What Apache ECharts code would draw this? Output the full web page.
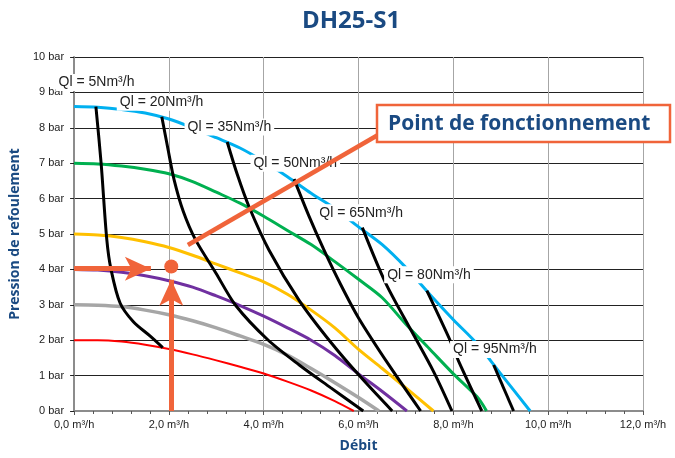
<!DOCTYPE html>
<html>
<head>
<meta charset="utf-8">
<script src="https://cdn.jsdelivr.net/npm/echarts/dist/echarts.min.js"></script>
<style>
  html, body { margin: 0; padding: 0; background: #fff; }
  #chart { width: 675px; height: 458px; }
</style>
</head>
<body>
<div id="chart"></div>
<script>
// courbes de pompe : [débit m³/h, pression bar]
const redCurve = [[0, 2.0], [0.5, 2.0], [1, 1.96], [1.5, 1.87], [2, 1.75], [2.5, 1.6], [3, 1.43], [3.5, 1.25], [4, 1.06], [4.5, 0.83], [5, 0.58], [5.5, 0.28], [5.9, 0]];
const grayCurve = [[0, 3.0], [0.5, 2.99], [1, 2.95], [1.5, 2.85], [2, 2.72], [2.5, 2.55], [3, 2.35], [3.5, 2.12], [4, 1.88], [4.5, 1.58], [5, 1.2], [5.5, 0.8], [6, 0.38], [6.43, 0]];
const purpleCurve = [[0, 4.0], [0.5, 3.98], [1, 3.92], [1.5, 3.82], [2, 3.68], [2.5, 3.5], [3, 3.25], [3.5, 2.98], [4, 2.68], [4.5, 2.35], [5, 2.0], [5.5, 1.57], [6, 1.05], [6.5, 0.55], [7.02, 0]];
const yellowCurve = [[0, 5.0], [0.5, 4.97], [1, 4.9], [1.5, 4.78], [2, 4.62], [2.5, 4.4], [3, 4.15], [3.5, 3.9], [4, 3.65], [4.5, 3.3], [5, 2.85], [5.5, 2.35], [6, 1.74], [6.5, 1.2], [7, 0.65], [7.58, 0]];
const greenCurve = [[0, 7.0], [0.5, 6.98], [1, 6.92], [1.5, 6.83], [2, 6.7], [2.5, 6.48], [3, 6.18], [3.5, 5.87], [4, 5.5], [4.5, 5.1], [5, 4.7], [5.5, 4.22], [6, 3.72], [6.5, 3.2], [7, 2.45], [7.5, 1.75], [8, 1.05], [8.5, 0.4], [8.7, 0]];
const cyanCurve = [[0, 8.6], [0.5, 8.58], [1, 8.52], [1.5, 8.42], [2, 8.25], [2.5, 8.0], [3, 7.72], [3.5, 7.43], [4, 7.05], [4.5, 6.62], [5, 6.15], [5.5, 5.72], [6, 5.2], [6.5, 4.7], [7, 4.05], [7.5, 3.3], [8, 2.58], [8.5, 1.9], [9, 1.05], [9.62, 0]];

// courbes de débit d'air Ql
const ql5 = [[0.46, 8.6], [0.57, 7.0], [0.69, 4.84], [0.78, 3.99], [0.97, 3.05], [1.25, 2.52], [1.6, 2.12], [1.87, 1.79]];
const ql20 = [[1.85, 8.31], [1.98, 7.4], [2.11, 6.53], [2.3, 5.65], [2.56, 4.84], [2.99, 3.9], [3.41, 2.98], [4.08, 2.02], [4.75, 1.3], [5.41, 0.66], [6.1, 0]];
const ql35 = [[3.23, 7.6], [3.45, 6.65], [3.69, 5.77], [4.11, 4.55], [4.75, 3.12], [5.41, 1.95], [6.05, 0.95], [6.71, 0]];
const ql50 = [[4.64, 6.55], [4.95, 5.52], [5.27, 4.55], [5.62, 3.58], [6.0, 2.63], [6.65, 1.28], [7.31, 0]];
const ql65 = [[6.08, 5.18], [6.57, 3.62], [7.1, 2.3], [7.58, 1.12], [7.97, 0]];
const ql80 = [[7.44, 3.4], [7.94, 1.97], [8.11, 1.41], [8.6, 0]];
const ql95 = [[8.85, 1.3], [9.27, 0]];

const qlLabels = ['Ql = 5Nm³/h', 'Ql = 20Nm³/h', 'Ql = 35Nm³/h', 'Ql = 50Nm³/h', 'Ql = 65Nm³/h', 'Ql = 80Nm³/h', 'Ql = 95Nm³/h'];
const qlLabelPos = [[-0.39, 9.28], [0.9, 8.72], [2.33, 8.02], [3.72, 7.0], [5.11, 5.6], [6.54, 3.85], [7.93, 1.74]];

// point de fonctionnement
const workPoint = [2.05, 4.08];
const pointerLine = [[2.4, 4.69], [6.4, 7.79]];
const hArrow = [[0, 4.02], [1.62, 4.02]];
const vArrow = [[2.05, 0], [2.05, 3.71]];

const orange = '#f0643a';
const blue = '#1a4a82';

const curve = (data, color, width) => ({
  type: 'line',
  data: data,
  smooth: 0.3,
  symbol: 'none',
  lineStyle: { color: color, width: width },
  z: 2,
});
const qlCurve = (data) => ({
  type: 'line',
  data: data,
  smooth: 0.3,
  symbol: 'none',
  lineStyle: { color: '#000', width: 3 },
  z: 3,
});

const chart = echarts.init(document.getElementById('chart'));
chart.setOption({
  animation: false,
  backgroundColor: '#fff',
  grid: { left: 73, right: 32, top: 57, bottom: 46 },
  xAxis: {
    type: 'value',
    min: 0,
    max: 12,
    interval: 2,
    name: 'Débit',
    nameLocation: 'middle',
    nameGap: 28,
    nameTextStyle: { fontFamily: 'Open Sans', fontWeight: 'bold', fontSize: 14, color: blue },
    axisLine: { show: true, lineStyle: { color: '#8c8c8c', width: 2 } },
    axisTick: { show: true, length: 4, lineStyle: { color: '#555' } },
    minorTick: { show: true, splitNumber: 5, length: 3, lineStyle: { color: '#555' } },
    splitLine: { show: true, lineStyle: { color: '#a6a6a6' } },
    axisLabel: {
      fontFamily: 'Liberation Sans',
      fontSize: 11,
      color: '#222',
      margin: 8,
      formatter: (v) => v.toFixed(1).replace('.', ',') + ' m³/h',
    },
  },
  yAxis: {
    type: 'value',
    min: 0,
    max: 10,
    interval: 1,
    name: 'Pression de refoulement',
    nameLocation: 'middle',
    nameGap: 41,
    nameTextStyle: { fontFamily: 'Open Sans', fontWeight: 'bold', fontSize: 14, color: blue },
    axisLine: { show: true, lineStyle: { color: '#8c8c8c', width: 2 } },
    axisTick: { show: true, length: 4, lineStyle: { color: '#222' } },
    splitLine: { show: true, lineStyle: { color: '#222' } },
    axisLabel: {
      fontFamily: 'Liberation Sans',
      fontSize: 11,
      color: '#222',
      margin: 10,
      formatter: '{value} bar',
    },
  },
  graphic: [
    {
      type: 'text',
      z: 100,
      style: {
        text: 'DH25-S1',
        x: 351,
        y: 21,
        align: 'center',
        verticalAlign: 'middle',
        textAlign: 'center',
        textVerticalAlign: 'middle',
        font: 'bold 24px "Open Sans"',
        fill: blue,
      },
    },
    {
      type: 'rect',
      z: 100,
      shape: { x: 377, y: 105, width: 293, height: 37 },
      style: { fill: '#fff', stroke: orange, lineWidth: 2.5 },
    },
    {
      type: 'text',
      z: 101,
      style: {
        text: 'Point de fonctionnement',
        x: 388,
        y: 124,
        align: 'left',
        verticalAlign: 'middle',
        textAlign: 'left',
        textVerticalAlign: 'middle',
        font: 'bold 21px "Open Sans"',
        fill: blue,
      },
    },
  ],
  series: [
    curve(redCurve, '#ff0000', 2),
    curve(grayCurve, '#a6a6a6', 3.5),
    curve(purpleCurve, '#7030a0', 3),
    curve(yellowCurve, '#ffc000', 3),
    curve(greenCurve, '#00b050', 3),
    curve(cyanCurve, '#00b0f0', 3),
    qlCurve(ql5),
    qlCurve(ql20),
    qlCurve(ql35),
    qlCurve(ql50),
    qlCurve(ql65),
    qlCurve(ql80),
    qlCurve(ql95),
    {
      // étiquettes Ql sur fond blanc
      type: 'custom',
      z: 10,
      clip: false,
      data: qlLabelPos,
      renderItem: (params, api) => {
        const p = api.coord([api.value(0), api.value(1)]);
        return {
          type: 'text',
          x: p[0],
          y: p[1],
          style: {
            text: qlLabels[params.dataIndex],
            font: '14px "Liberation Sans"',
            fill: '#222',
            backgroundColor: '#fff',
            padding: [2, 3, 1, 3],
            align: 'left',
            verticalAlign: 'middle',
          },
        };
      },
    },
    {
      type: 'line',
      data: pointerLine,
      symbol: 'none',
      lineStyle: { color: orange, width: 4.5 },
      z: 12,
    },
    {
      type: 'scatter',
      data: [workPoint],
      symbolSize: 14,
      itemStyle: { color: orange, opacity: 1 },
      z: 12,
      markLine: {
        silent: true,
        symbol: ['none', 'arrow'],
        symbolSize: [18, 26],
        label: { show: false },
        itemStyle: { color: orange, opacity: 1 },
        lineStyle: { color: orange, width: 5, type: 'solid', opacity: 1 },
        data: [
          [{ coord: hArrow[0] }, { coord: hArrow[1] }],
          [{ coord: vArrow[0] }, { coord: vArrow[1] }],
        ],
      },
    },
  ],
});
</script>
</body>
</html>
